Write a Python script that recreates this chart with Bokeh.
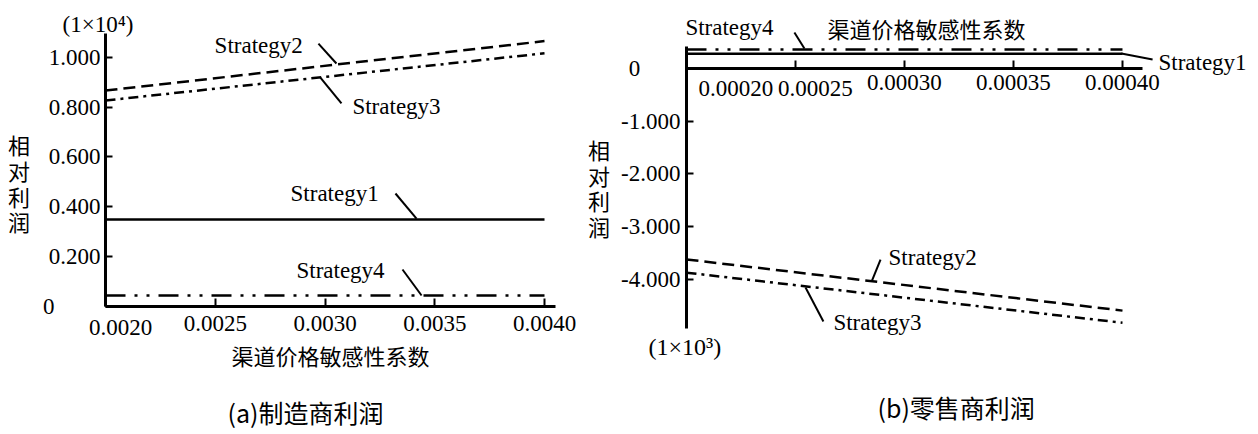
from bokeh.plotting import figure
from bokeh.models import FixedTicker, Label, Range1d, LinearAxis
from bokeh.embed import file_html
from bokeh.resources import INLINE

# ---------------- data ----------------
# (a) manufacturer profit (x 1e4)
sens_a = [0.0020, 0.0040]
manu_s1 = [0.348, 0.348]
manu_s2 = [0.867, 1.066]
manu_s3 = [0.827, 1.017]
manu_s4 = [0.042, 0.042]

# (b) retailer profit (x 1e3)
sens_b = [0.00020, 0.00040]
ret_s1 = [0.28, 0.28]
ret_s2 = [-3.62, -4.59]
ret_s3 = [-3.87, -4.82]
ret_s4 = [0.36, 0.36]

xticks_a = [0.0020, 0.0025, 0.0030, 0.0035, 0.0040]
xlabels_a = ["0.0020", "0.0025", "0.0030", "0.0035", "0.0040"]
yticks_a = [0.0, 0.2, 0.4, 0.6, 0.8, 1.0]
ylabels_a = ["0", "0.200", "0.400", "0.600", "0.800", "1.000"]

xticks_b = [0.00020, 0.00025, 0.00030, 0.00035, 0.00040]
xlabels_b = ["0.00020", "0.00025", "0.00030", "0.00035", "0.00040"]
yticks_b = [0.0, -1.0, -2.0, -3.0, -4.0]
ylabels_b = ["0", "-1.000", "-2.000", "-3.000", "-4.000"]

series_names = ["Strategy1", "Strategy2", "Strategy3", "Strategy4"]
dashes = ["solid", "12 6", "10 5 3 5", "20 9 3 9 3 9"]

# annotation anchors (label position, leader start, leader end) in data units
ann_a = {
    "Strategy1": ((0.002843, 0.4527), (0.003321, 0.4527), (0.003417, 0.352)),
    "Strategy2": ((0.002497, 1.048), (0.002970, 1.056), (0.003052, 0.976)),
    "Strategy3": ((0.003125, 0.803), (0.002979, 0.9195), (0.003075, 0.815)),
    "Strategy4": ((0.002870, 0.1429), (0.003353, 0.1469), (0.003440, 0.0423)),
}
ann_b = {
    "Strategy1": ((0.0004165, 0.114), (0.0003995, 0.284), (0.0004138, 0.171)),
    "Strategy2": ((0.0002927, -3.583), (0.0002890, -3.621), (0.0002849, -4.038)),
    "Strategy3": ((0.0002674, -4.815), (0.0002546, -4.152), (0.0002628, -4.796)),
    "Strategy4": ((0.0001995, 0.777), (0.0002495, 0.682), (0.0002541, 0.379)),
}

SERIF = "Liberation Serif"
CJK = "Noto Sans CJK SC"
FS = "23px"
NB = "\u00a0"

# panel extents (axis bounds) and the visible window of each panel's scales
bounds_xa, bounds_ya = (0.0020, 0.00405), (0.0, 1.097)
bounds_xb, bounds_yb = (0.00020, 0.000409), (-4.929, 0.417)
win_xa, win_ya = (0.00152164, 0.0072528), (-0.5171, 1.2294)
win_xb, win_yb = (-0.00011468, 0.00046239), (-6.9384, 1.2891)

p = figure(width=1258, height=434, x_range=Range1d(*win_xa), y_range=Range1d(*win_ya),
           output_backend="svg", toolbar_location=None, title=None,
           x_axis_location=None, y_axis_location=None,
           min_border_left=0, min_border_right=0, min_border_top=0, min_border_bottom=0)
p.extra_x_ranges = {"xb": Range1d(*win_xb)}
p.extra_y_ranges = {"yb": Range1d(*win_yb)}
p.outline_line_color = None
p.background_fill_color = "white"
p.border_fill_color = "white"
p.xgrid.visible = False
p.ygrid.visible = False


def style_axis(ax):
    ax.axis_line_color = "black"
    ax.axis_line_width = 3
    ax.major_tick_line_color = "black"
    ax.major_tick_line_width = 2
    ax.major_tick_in = 7
    ax.major_tick_out = 0
    ax.minor_tick_line_color = None
    ax.major_label_text_font = SERIF
    ax.major_label_text_font_size = FS
    ax.major_label_text_color = "black"
    ax.axis_label_text_font = CJK
    ax.axis_label_text_font_size = "22px"
    ax.axis_label_text_font_style = "normal"
    ax.axis_label_text_color = "black"
    ax.axis_label_text_line_height = 0.8
    return ax


def add_label(x, y, text, font=SERIF, size=FS, align="left", xo=0, yo=0, b=False):
    kw = dict(x_range_name="xb", y_range_name="yb") if b else {}
    p.add_layout(Label(x=x, y=y, text=text, text_font=font, text_font_size=size,
                       text_align=align, text_baseline="middle", text_color="black",
                       x_offset=xo, y_offset=yo, **kw))


# ---------------- panel (a): manufacturer ----------------
xa = style_axis(LinearAxis(fixed_location=0.0, bounds=bounds_xa))
xa.ticker = FixedTicker(ticks=xticks_a)
ovxa = dict(zip(xticks_a, xlabels_a))
ovxa[xticks_a[0]] = ""
xa.major_label_overrides = ovxa
xa.major_tick_in = 8
xa.major_label_standoff = 10
xa.axis_label = "渠道价格敏感性系数"
xa.axis_label_standoff = 4
p.add_layout(xa, "below")
# first tick label sits a little right of the corner, as in the original
add_label(xticks_a[0], 0.0, xlabels_a[0], align="center", xo=15, yo=-21)

ya = style_axis(LinearAxis(fixed_location=0.0020, bounds=bounds_ya))
ya.ticker = FixedTicker(ticks=yticks_a)
ova = dict(zip(yticks_a, ylabels_a))
ova[yticks_a[0]] = ylabels_a[0] + NB * 8
ya.major_label_overrides = ova
ya.major_label_standoff = 5
ya.axis_label = "\n相\n对\n利\n润"
ya.axis_label_orientation = "horizontal"
ya.axis_label_standoff = 10
p.add_layout(ya, "left")

for ys, d in zip([manu_s1, manu_s2, manu_s3, manu_s4], dashes):
    p.line(sens_a, ys, line_color="black", line_width=2.5, line_dash=d)

for name in series_names:
    (lx, ly), (x0, y0), (x1, y1) = ann_a[name]
    add_label(lx, ly, name)
    p.segment(x0=[x0], y0=[y0], x1=[x1], y1=[y1], line_color="black", line_width=2)

add_label(0.0018041, 1.1328, "(1×10⁴)", size="23px")
add_label(0.0025558, -0.4246, "(a)制造商利润", font=CJK, size="25px")

# ---------------- panel (b): retailer ----------------
xb = style_axis(LinearAxis(x_range_name="xb", y_range_name="yb", fixed_location=0.0, bounds=bounds_xb))
xb.ticker = FixedTicker(ticks=xticks_b)
ovxb = dict(zip(xticks_b, xlabels_b))
ovxb[xticks_b[0]] = ""
ovxb[xticks_b[1]] = ""
xb.major_label_overrides = ovxb
xb.major_tick_in = 8
xb.major_label_standoff = 7
p.add_layout(xb, "below")

yb = style_axis(LinearAxis(x_range_name="xb", y_range_name="yb", fixed_location=0.00020, bounds=bounds_yb))
yb.ticker = FixedTicker(ticks=yticks_b)
ovyb = dict(zip(yticks_b, ylabels_b))
ovyb[yticks_b[0]] = ylabels_b[0] + NB * 7
yb.major_label_overrides = ovyb
yb.major_label_standoff = 6
yb.axis_label = "相\n对\n利\n润"
yb.axis_label_orientation = "horizontal"
yb.axis_label_standoff = 8
p.add_layout(yb, "left")

# the first two tick labels are set slightly to the right, as in the original
add_label(xticks_b[0], 0.0, xlabels_b[0], xo=12, yo=-20, b=True)
add_label(xticks_b[1], 0.0, xlabels_b[1], align="center", xo=20, yo=-20, b=True)
# x-axis title written above the axis line, as in the original
add_label(0.0002647, 0.777, "渠道价格敏感性系数", font=CJK, size="22px", b=True)

for ys, d in zip([ret_s1, ret_s2, ret_s3, ret_s4], dashes):
    p.line(sens_b, ys, line_color="black", line_width=2.5, line_dash=d,
           x_range_name="xb", y_range_name="yb")

for name in series_names:
    (lx, ly), (x0, y0), (x1, y1) = ann_b[name]
    add_label(lx, ly, name, b=True)
    p.segment(x0=[x0], y0=[y0], x1=[x1], y1=[y1], line_color="black", line_width=2,
              x_range_name="xb", y_range_name="yb")

add_label(0.00018257, -5.289, "(1×10³)", size="24px", b=True)
add_label(0.00028761, -6.426, "(b)零售商利润", font=CJK, size="25px", b=True)

open("out.html", "w").write(file_html(p, INLINE))
